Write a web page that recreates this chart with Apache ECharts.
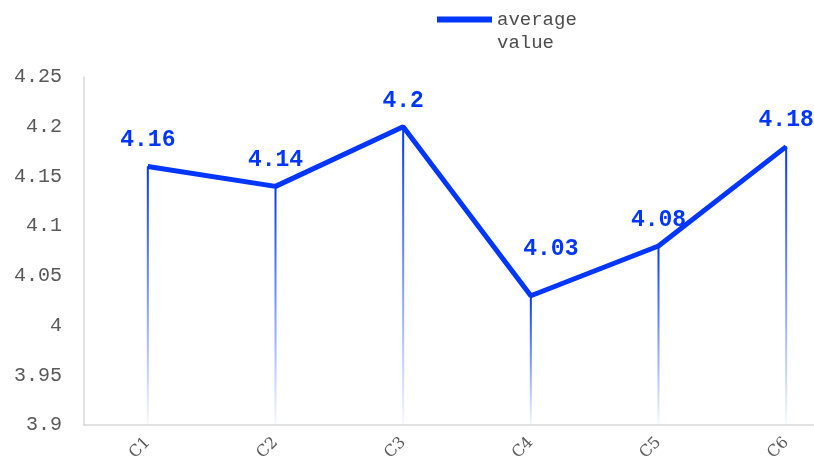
<!DOCTYPE html>
<html>
<head>
<meta charset="utf-8">
<script src="https://cdn.jsdelivr.net/npm/echarts@6/dist/echarts.min.js"></script>
<style>
    html, body { margin: 0; padding: 0; background: #fff; }
    #chart { width: 814px; height: 460px; }
</style>
</head>
<body>
<div id="chart"></div>
<script>
// 数据
var categories = ['C1', 'C2', 'C3', 'C4', 'C5', 'C6'];
var avg_values = [4.16, 4.14, 4.2, 4.03, 4.08, 4.18];
var series_name = 'average\nvalue';

var main_blue = '#0036ff';
var label_font = 'Liberation Mono';

var chart = echarts.init(document.getElementById('chart'), null, {renderer: 'canvas'});

// C4 的标签在原图里被挪到了右上方
var line_data = avg_values.map(function (v, i) {
    if (i === 3) {
        return {value: v, label: {offset: [20, -21]}};
    }
    return v;
});

var option = {
    animation: false,
    legend: {
        left: 437,
        top: -15,
        padding: 0,
        icon: 'rect',
        itemWidth: 55,
        itemHeight: 6,
        data: [series_name],
        // 前面加空行，让图标和第一行对齐
        formatter: function (name) {
            return '\n' + name;
        },
        textStyle: {
            color: '#4d4d4d',
            fontFamily: label_font,
            fontSize: 19,
            lineHeight: 23
        }
    },
    grid: {
        left: 84,
        top: 77,
        bottom: 35,
        width: 766,
        outerBoundsMode: 'none'
    },
    xAxis: {
        type: 'category',
        data: categories,
        boundaryGap: true,
        axisLine: {lineStyle: {color: '#d9d9d9', width: 1.5}},
        axisTick: {show: false},
        axisLabel: {
            rotate: 45,
            color: '#595959',
            fontFamily: 'DejaVu Serif',
            fontSize: 16,
            margin: 15
        }
    },
    yAxis: {
        type: 'value',
        min: 3.9,
        max: 4.25,
        interval: 0.05,
        startValue: 3.9,
        splitLine: {show: false},
        axisLine: {show: true, lineStyle: {color: '#d9d9d9', width: 1.5}},
        axisTick: {show: false},
        axisLabel: {
            color: '#595959',
            fontFamily: label_font,
            fontSize: 20,
            margin: 22,
            formatter: function (v) {
                return String(Math.round(v * 100) / 100);
            }
        }
    },
    series: [
        {
            // 竖线（渐变）
            name: 'drop',
            type: 'bar',
            data: avg_values,
            barWidth: 2,
            itemStyle: {
                color: new echarts.graphic.LinearGradient(0, 0, 0, 1, [
                    {offset: 0, color: 'rgba(0,54,255,1)'},
                    {offset: 1, color: 'rgba(0,54,255,0.03)'}
                ])
            },
            z: 1
        },
        {
            name: series_name,
            type: 'line',
            data: line_data,
            showSymbol: true,
            symbol: 'circle',
            symbolSize: 1,
            lineStyle: {color: main_blue, width: 5},
            itemStyle: {color: main_blue},
            label: {
                show: true,
                position: 'top',
                distance: 14,
                color: main_blue,
                fontFamily: label_font,
                fontWeight: 'bold',
                fontSize: 23
            },
            z: 3
        }
    ]
};
chart.setOption(option);
</script>
</body>
</html>
